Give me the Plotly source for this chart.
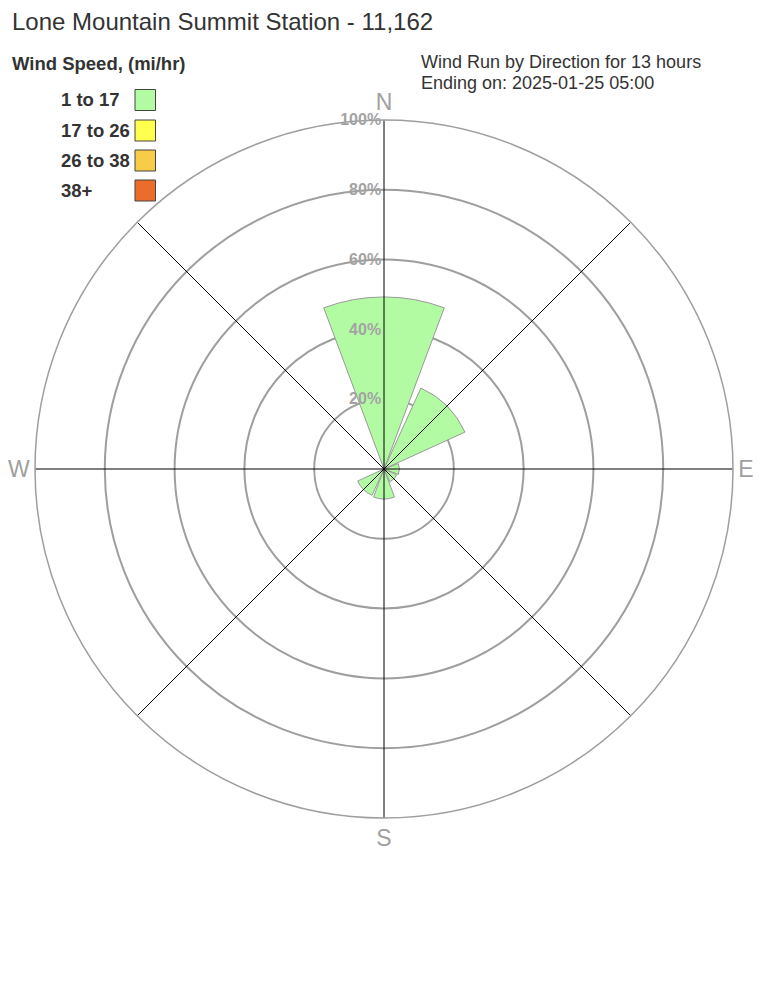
import plotly.graph_objects as go

# ---------------- data ----------------
directions = ["N", "NE", "E", "SE", "S", "SW", "W", "NW"]
dir_angles = [0, 45, 90, 135, 180, 225, 270, 315]
speed_bands = ["1 to 17", "17 to 26", "26 to 38", "38+"]
band_colors = ["#b3fba3", "#ffff4d", "#f8cc47", "#ec6c2c"]
band_1_17 = [49.3, 25.5, 4.4, 4.0, 8.6, 8.3, 0.0, 0.0]
band_17_26 = [0.0, 0.0, 0.0, 0.0, 0.0, 0.0, 0.0, 0.0]
band_26_38 = [0.0, 0.0, 0.0, 0.0, 0.0, 0.0, 0.0, 0.0]
band_38p = [0.0, 0.0, 0.0, 0.0, 0.0, 0.0, 0.0, 0.0]
band_values = [band_1_17, band_17_26, band_26_38, band_38p]
radial_ticks = [20, 40, 60, 80, 100]
radial_ticktext = ["20%", "40%", "60%", "80%", "100%"]
compass_ticks = [0, 90, 180, 270]
compass_text = ["N", "E", "S", "W"]
title_text = "Lone Mountain Summit Station - 11,162"
legend_title = "Wind Speed, (mi/hr)"
info_lines = ["Wind Run by Direction for 13 hours", "Ending on: 2025-01-25 05:00"]

# page offset (browser body margin)
OFF = 8
W, H = 760, 1000
FONT = "Liberation Sans, Arial, sans-serif"


def px(x):
    return (x - OFF) / W


def py(y):
    return 1 - (y - OFF) / H


fig = go.Figure()

for name, vals, col in zip(speed_bands, band_values, band_colors):
    fig.add_trace(go.Barpolar(
        r=vals, theta=dir_angles, width=[41] * len(dir_angles), name=name,
        marker=dict(color=col, line=dict(color="#999999", width=1)),
        showlegend=False, hoverinfo="skip",
    ))

# black spokes drawn above the bars
sr, st = [], []
for a in [0, 45, 90, 135]:
    sr += [100, 0, 100, None]
    st += [a, a, a + 180, None]
fig.add_trace(go.Scatterpolar(r=sr, theta=st, mode="lines",
                              line=dict(color="black", width=1),
                              showlegend=False, hoverinfo="skip"))

cx, cy, R = 384, 469, 349
fig.update_layout(
    width=W, height=H,
    margin=dict(l=0, r=0, t=0, b=0),
    paper_bgcolor="white", plot_bgcolor="white",
    font=dict(family=FONT, color="#333333"),
    barmode="stack",
    polar=dict(
        domain=dict(x=[px(cx - R), px(cx + R)],
                    y=[py(cy + R), py(cy - R)]),
        bgcolor="white",
        radialaxis=dict(range=[0, 100], tickvals=radial_ticks,
                        ticktext=["<b>" + t + "</b>" for t in radial_ticktext],
                        angle=90, tickangle=90, showline=False, ticks="",
                        gridcolor="#9e9e9e", gridwidth=1.5,
                        tickfont=dict(size=16, color="#a3a3a3", family=FONT),
                        layer="above traces", side="counterclockwise"),
        angularaxis=dict(rotation=90, direction="clockwise",
                         tickmode="array", tickvals=compass_ticks, ticktext=compass_text,
                         showgrid=False, ticks="",
                         showline=True, linecolor="#9e9e9e", linewidth=1.5,
                         tickfont=dict(size=23, color="#a0a0a0", family=FONT)),
    ),
)

ann = []
ann.append(dict(text=title_text, x=px(10), y=py(21), xref="paper", yref="paper",
                xanchor="left", yanchor="middle", showarrow=False,
                font=dict(size=24, color="#333333", family=FONT)))
ann.append(dict(text="<b>" + legend_title + "</b>", x=px(10), y=py(63), xref="paper",
                yref="paper", xanchor="left", yanchor="middle", showarrow=False,
                font=dict(size=18.5, color="#333333", family=FONT)))
for i, line in enumerate(info_lines):
    ann.append(dict(text=line, x=px(419), y=py(62 + 21 * i), xref="paper",
                    yref="paper", xanchor="left", yanchor="middle", showarrow=False,
                    font=dict(size=18, color="#333333", family=FONT)))

shapes = []
row_y = [100, 130.5, 160.5, 190.5]
for name, col, yy in zip(speed_bands, band_colors, row_y):
    ann.append(dict(text="<b>" + name + "</b>", x=px(59), y=py(yy), xref="paper",
                    yref="paper", xanchor="left", yanchor="middle", showarrow=False,
                    font=dict(size=18.5, color="#333333", family=FONT)))
    shapes.append(dict(type="rect", xref="paper", yref="paper",
                       x0=px(135), x1=px(155.5), y0=py(yy - 10.5), y1=py(yy + 10.5),
                       fillcolor=col, line=dict(color="#444444", width=1)))

fig.update_layout(annotations=ann, shapes=shapes)
fig.write_html("out.html")
